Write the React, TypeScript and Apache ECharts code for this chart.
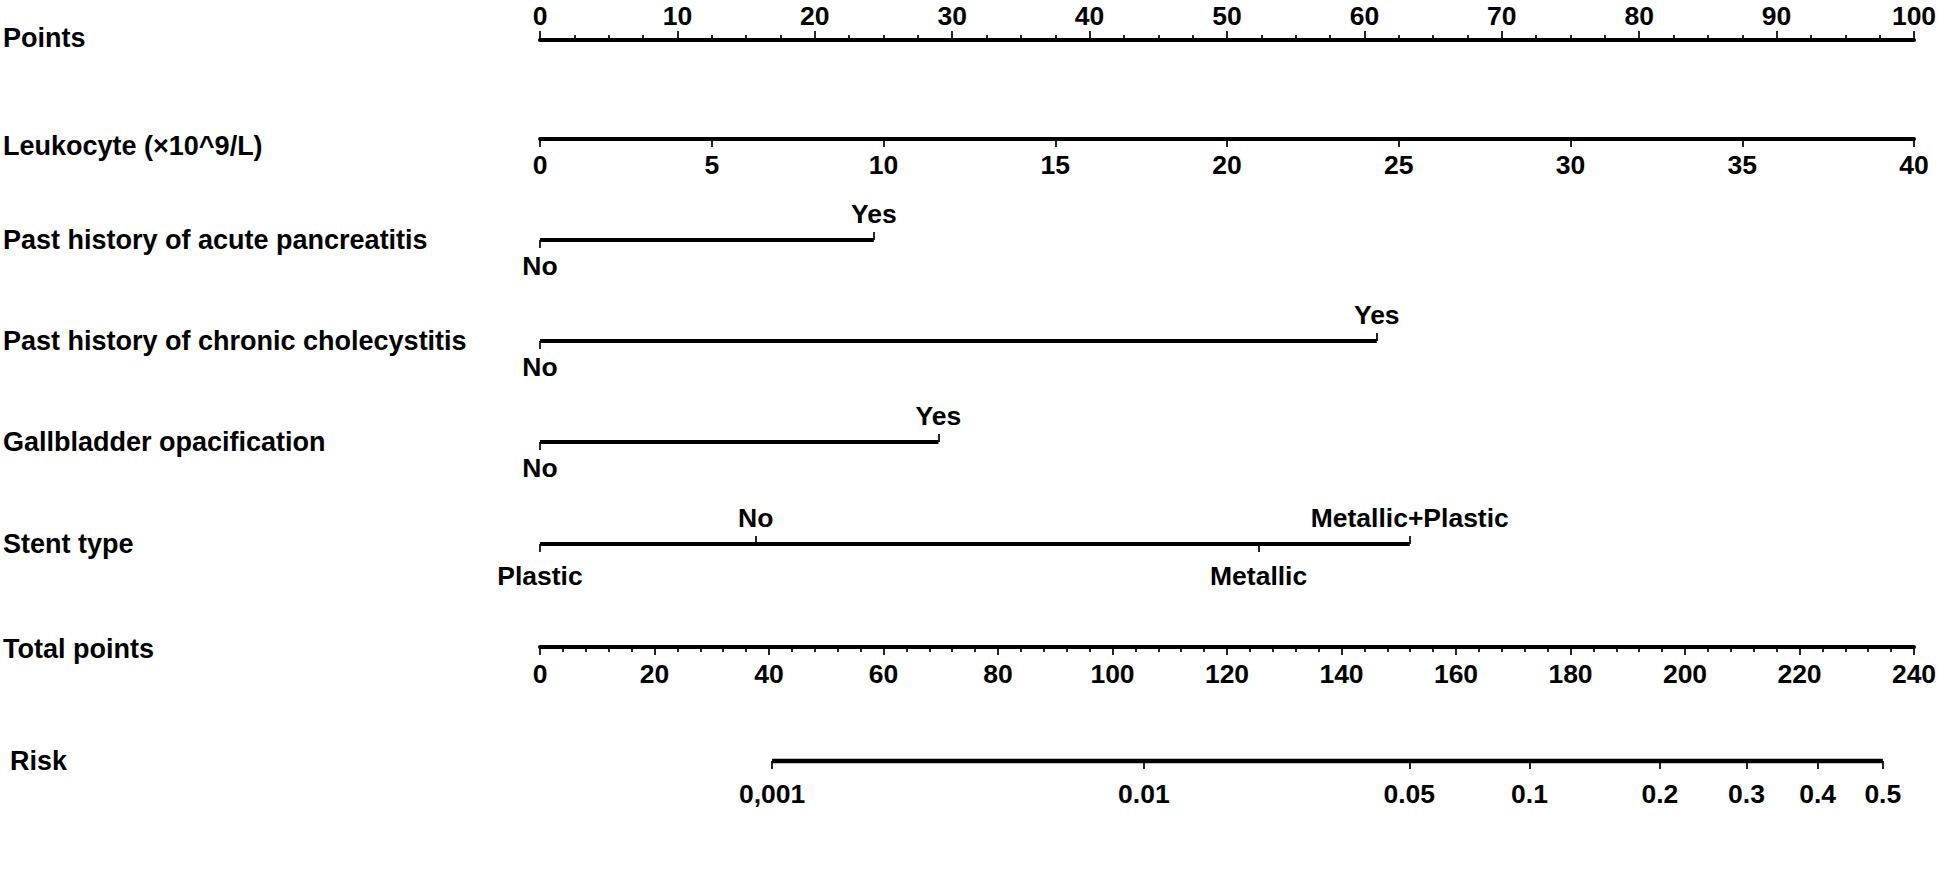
import React, { useEffect, useRef } from "react";
import * as echarts from "echarts";

// ---------- data ----------
const rowLabels = [
  "Points",
  "Leukocyte (×10^9/L)",
  "Past history of acute pancreatitis",
  "Past history of chronic cholecystitis",
  "Gallbladder opacification",
  "Stent type",
  "Total points",
  "Risk",
];

const pointsMin = 0;
const pointsMax = 100;
const pointsInterval = 10;

const leukocyteMin = 0;
const leukocyteMax = 40;
const leukocyteInterval = 5;

const acuteLevels = ["No", "Yes"];
const acutePoints = [0, 24.3];

const chronicLevels = ["No", "Yes"];
const chronicPoints = [0, 60.9];

const gallbladderLevels = ["No", "Yes"];
const gallbladderPoints = [0, 29.0];

const stentLevels = ["Plastic", "No", "Metallic", "Metallic+Plastic"];
const stentPoints = [0, 15.7, 52.3, 63.3];

const totalMin = 0;
const totalMax = 240;
const totalInterval = 20;

const riskValues = [0.001, 0.01, 0.05, 0.1, 0.2, 0.3, 0.4, 0.5];
const riskLabels = ["0,001", "0.01", "0.05", "0.1", "0.2", "0.3", "0.4", "0.5"];
// logistic model linking total points to risk
const riskIntercept = -8.35;
const riskSlope = 0.0356;

// ---------- layout ----------
const AX_LEFT = 540;
const AX_RIGHT = 1914;
const ROW_Y = [40, 139, 240, 341, 442, 544, 647, 761];
const LABEL_DY = [-2, 7, 0, 0, 0, 0, 2, 0];
const LABEL_X = [3, 3, 3, 3, 3, 3, 3, 10];
const BELOW_MARGIN = [0, 0, 12, 12, 12, 18, 0, 0];
const ABOVE_MARGIN = [0, 0, 13, 13, 13, 13, 0, 0];
const FONT = '"Liberation Sans", Arial, Helvetica, sans-serif';

const riskToTotal = (p: number) => (Math.log(p / (1 - p)) - riskIntercept) / riskSlope;

function closestIndex(arr: number[], v: number) {
  let best = 0;
  for (let i = 1; i < arr.length; i++) {
    if (Math.abs(arr[i] - v) < Math.abs(arr[best] - v)) best = i;
  }
  return best;
}

function buildOption() {
  const grids: any[] = [];
  const xAxes: any[] = [];
  const yAxes: any[] = [];
  const series: any[] = [];

  const labelStyle = {
    color: "#000",
    fontSize: 26.5,
    fontWeight: "bold",
    fontFamily: FONT,
    margin: 11,
  };
  const tickLine = { color: "#000", width: 1.7 };
  const axisLineStyle = { color: "#000", width: 4 };

  ROW_Y.forEach((y, i) => {
    grids.push({ left: AX_LEFT, width: AX_RIGHT - AX_LEFT, top: y, height: 0 });
    yAxes.push({ type: "value", gridIndex: i, min: 0, max: 1, show: false });
  });

  // Row 0: Points
  xAxes.push({
    type: "value",
    gridIndex: 0,
    position: "top",
    min: pointsMin,
    max: pointsMax,
    interval: pointsInterval,
    axisLine: { show: true, onZero: false, lineStyle: axisLineStyle },
    axisTick: { show: true, length: 9, lineStyle: tickLine },
    minorTick: { show: true, splitNumber: 4, length: 5, lineStyle: tickLine },
    splitLine: { show: false },
    minorSplitLine: { show: false },
    axisLabel: { ...labelStyle, margin: 11 },
  });

  // Row 1: Leukocyte
  xAxes.push({
    type: "value",
    gridIndex: 1,
    position: "bottom",
    min: leukocyteMin,
    max: leukocyteMax,
    interval: leukocyteInterval,
    axisLine: { show: true, onZero: false, lineStyle: axisLineStyle },
    axisTick: { show: true, length: 8, lineStyle: tickLine },
    splitLine: { show: false },
    axisLabel: { ...labelStyle, margin: 12 },
  });

  // categorical rows
  const cats: [number, string[], number[]][] = [
    [2, acuteLevels, acutePoints],
    [3, chronicLevels, chronicPoints],
    [4, gallbladderLevels, gallbladderPoints],
    [5, stentLevels, stentPoints],
  ];
  cats.forEach(([g, levels, pts]) => {
    const below = pts.filter((_, k) => k % 2 === 0);
    const above = pts.filter((_, k) => k % 2 === 1);
    const fmt = (v: number) => levels[closestIndex(pts, v)];
    const bottomIdx = xAxes.length;
    xAxes.push({
      type: "value",
      gridIndex: g,
      position: "bottom",
      min: pointsMin,
      max: pointsMax,
      axisLine: { show: false, onZero: false },
      axisTick: { show: true, length: 8, lineStyle: tickLine, customValues: below },
      splitLine: { show: false },
      axisLabel: { ...labelStyle, margin: BELOW_MARGIN[g], customValues: below, formatter: fmt },
    });
    xAxes.push({
      type: "value",
      gridIndex: g,
      position: "top",
      min: pointsMin,
      max: pointsMax,
      axisLine: { show: false, onZero: false },
      axisTick: { show: true, length: 8, lineStyle: tickLine, customValues: above },
      splitLine: { show: false },
      axisLabel: { ...labelStyle, margin: ABOVE_MARGIN[g], customValues: above, formatter: fmt },
    });
    series.push({
      type: "line",
      xAxisIndex: bottomIdx,
      yAxisIndex: g,
      data: [
        [pts[0], 0],
        [Math.max(...pts), 0],
      ],
      symbol: "none",
      silent: true,
      lineStyle: { color: "#000", width: 4, cap: "butt" },
    });
  });

  // Row 6: Total points
  xAxes.push({
    type: "value",
    gridIndex: 6,
    position: "bottom",
    min: totalMin,
    max: totalMax,
    interval: totalInterval,
    axisLine: { show: true, onZero: false, lineStyle: axisLineStyle },
    axisTick: { show: true, length: 8, lineStyle: tickLine },
    minorTick: { show: true, splitNumber: 5, length: 5, lineStyle: tickLine },
    splitLine: { show: false },
    minorSplitLine: { show: false },
    axisLabel: { ...labelStyle, margin: 13 },
  });

  // Row 7: Risk (on the total-points scale)
  const riskTotals = riskValues.map(riskToTotal);
  const riskIdx = xAxes.length;
  xAxes.push({
    type: "value",
    gridIndex: 7,
    position: "bottom",
    min: totalMin,
    max: totalMax,
    axisLine: { show: false, onZero: false },
    axisTick: { show: true, length: 8, lineStyle: tickLine, customValues: riskTotals },
    splitLine: { show: false },
    axisLabel: {
      ...labelStyle,
      margin: 19,
      customValues: riskTotals,
      formatter: (v: number) => riskLabels[closestIndex(riskTotals, v)],
    },
  });
  series.push({
    type: "line",
    xAxisIndex: riskIdx,
    yAxisIndex: 7,
    data: [
      [riskTotals[0], 0],
      [riskTotals[riskTotals.length - 1], 0],
    ],
    symbol: "none",
    silent: true,
    lineStyle: { color: "#000", width: 5, cap: "butt" },
  });

  const graphics = rowLabels.map((t, i) => ({
    type: "text",
    x: LABEL_X[i],
    y: ROW_Y[i] + LABEL_DY[i],
    silent: true,
    style: {
      text: t,
      fill: "#000",
      fontSize: 27,
      fontWeight: "bold",
      fontFamily: FONT,
      align: "left",
      verticalAlign: "middle",
    },
  }));

  return {
    animation: false,
    backgroundColor: "#fff",
    grid: grids,
    xAxis: xAxes,
    yAxis: yAxes,
    series,
    graphic: graphics,
  };
}

export default function App() {
  const ref = useRef<HTMLDivElement>(null);
  useEffect(() => {
    if (!ref.current) return;
    const chart = echarts.init(ref.current, null, { renderer: "svg" });
    chart.setOption(buildOption() as any);
    return () => chart.dispose();
  }, []);
  return (
    <div
      ref={ref}
      style={{ position: "fixed", left: 0, top: 0, width: 1946, height: 894, background: "#fff" }}
    />
  );
}
